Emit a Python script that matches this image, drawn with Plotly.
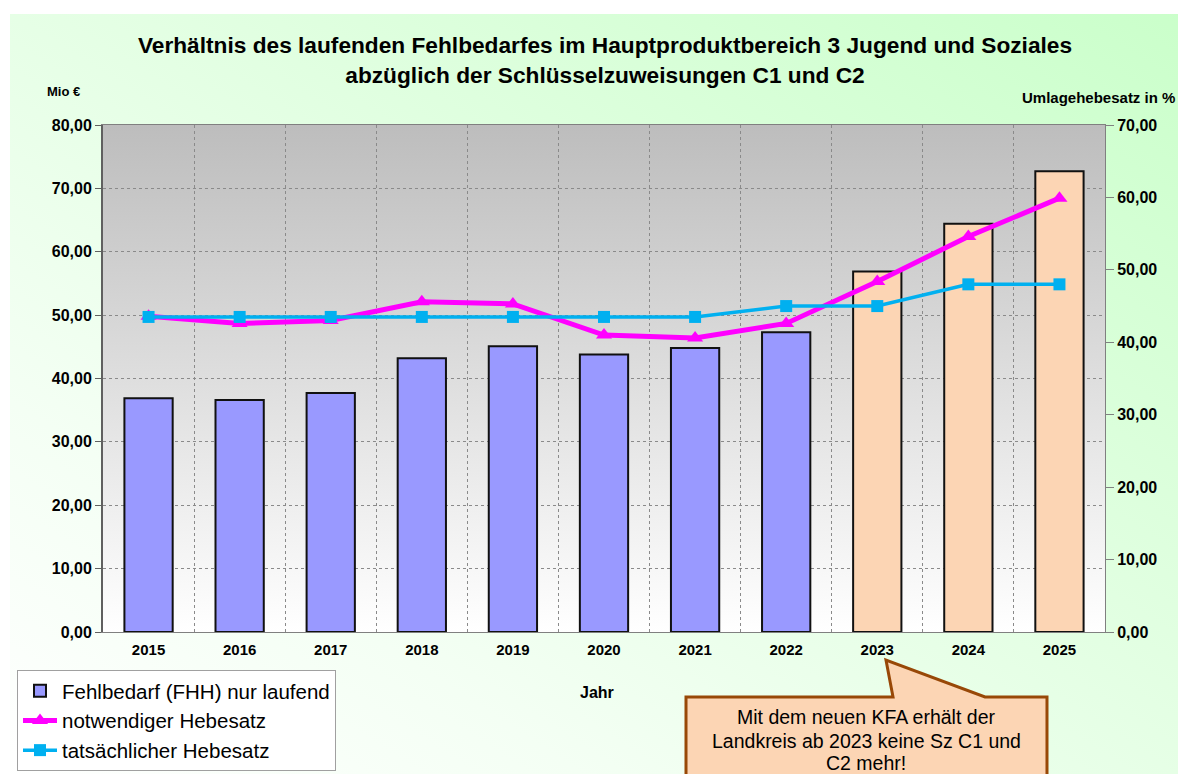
import base64
import plotly.graph_objects as go

# ---------------- data ----------------
years = [2015, 2016, 2017, 2018, 2019, 2020, 2021, 2022, 2023, 2024, 2025]
fehlbedarf = [36.9, 36.6, 37.7, 43.2, 45.1, 43.8, 44.8, 47.3, 56.9, 64.4, 72.7]
notwendig = [43.6, 42.6, 43.0, 45.6, 45.3, 41.0, 40.6, 42.6, 48.4, 54.6, 59.9]
tatsaechlich = [43.5, 43.5, 43.5, 43.5, 43.5, 43.5, 43.5, 45.0, 45.0, 48.0, 48.0]
bar_colors = ["#9999ff"] * 8 + ["#fcd5b4"] * 3

W, H = 1186, 774
OFF = 8  # page body margin offset
FONT = "Arial, Liberation Sans, sans-serif"

# plot area in screen pixels
PL, PR, PT, PB = 103, 1105, 125, 632


def px(x, y):
    return (x - OFF) / W, 1 - (y - OFF) / H


# ---------------- background (gradients) ----------------
svg = f'''<svg xmlns="http://www.w3.org/2000/svg" width="{W}" height="{H}" viewBox="0 0 {W} {H}" preserveAspectRatio="none">
<defs>
<linearGradient id="g" x1="0" y1="1" x2="1" y2="0">
<stop offset="0" stop-color="#ffffff"/>
<stop offset="0.25" stop-color="#f4fff4"/>
<stop offset="1" stop-color="#caffca"/>
</linearGradient>
<linearGradient id="p" x1="0" y1="0" x2="0" y2="1">
<stop offset="0" stop-color="#bdbdbd"/>
<stop offset="1" stop-color="#ffffff"/>
</linearGradient>
</defs>
<rect width="{W}" height="{H}" fill="#ffffff"/>
<rect x="{10-OFF}" y="{14-OFF}" width="{W}" height="{H}" fill="url(#g)"/>
<rect x="{PL-OFF}" y="{PT-OFF}" width="{PR-PL}" height="{PB-PT}" fill="url(#p)"/>
</svg>'''
src = "data:image/svg+xml;base64," + base64.b64encode(svg.encode()).decode()

fig = go.Figure()

fig.add_trace(go.Bar(
    x=years, y=fehlbedarf, name="Fehlbedarf (FHH) nur laufend",
    marker=dict(color=bar_colors, line=dict(color="#111111", width=2)),
    width=0.53, yaxis="y",
))
fig.add_trace(go.Scatter(
    x=years, y=notwendig, name="notwendiger Hebesatz", mode="lines+markers",
    line=dict(color="#ff00ff", width=5),
    marker=dict(symbol="triangle-up", size=14, color="#ff00ff"),
    yaxis="y2",
))
fig.add_trace(go.Scatter(
    x=years, y=tatsaechlich, name="tatsächlicher Hebesatz", mode="lines+markers",
    line=dict(color="#00b0f0", width=3.5),
    marker=dict(symbol="square", size=12, color="#00b0f0"),
    yaxis="y2",
))

x0, _ = px(PL, 0)
x1, _ = px(PR, 0)
_, y1 = px(0, PT)
_, y0 = px(0, PB)

# callout shape
bl, bt, br, bb = 686, 697, 1047, 800
tip = (886, 660)
pts = [(bl, bt), (893, bt), tip, (985, bt), (br, bt), (br, bb), (bl, bb)]
path = "M " + " L ".join(f"{px(a, b)[0]:.5f},{px(a, b)[1]:.5f}" for a, b in pts) + " Z"

callout_lines = ["Mit dem neuen KFA erhält der", "Landkreis ab 2023 keine Sz C1 und", "C2 mehr!"]
callout_y = [717, 741, 763]

annotations = [
    dict(text="Mio €", x=px(45, 0)[0], y=px(0, 92)[1], xref="paper", yref="paper",
         xanchor="left", yanchor="middle", showarrow=False,
         font=dict(size=13, family=FONT, weight="bold")),
    dict(text="Umlagehebesatz in %", x=px(1020, 0)[0], y=px(0, 97)[1], xref="paper", yref="paper",
         xanchor="left", yanchor="middle", showarrow=False,
         font=dict(size=15, family=FONT, weight="bold")),
    dict(text="Jahr", x=px(597, 0)[0], y=px(0, 692)[1], xref="paper", yref="paper",
         xanchor="center", yanchor="middle", showarrow=False,
         font=dict(size=16, family=FONT, weight="bold")),
]
for t, yy in zip(callout_lines, callout_y):
    annotations.append(dict(text=t, x=px(866, 0)[0], y=px(0, yy)[1], xref="paper", yref="paper",
                            xanchor="center", yanchor="middle", showarrow=False,
                            font=dict(size=19.5, family=FONT, color="#000000")))

fig.update_layout(
    width=W, height=H,
    margin=dict(l=0, r=0, t=0, b=0),
    paper_bgcolor="white",
    plot_bgcolor="rgba(0,0,0,0)",
    separators=",.",
    font=dict(family=FONT, color="#000000"),
    images=[dict(source=src, xref="paper", yref="paper", x=0, y=1,
                 sizex=1, sizey=1, xanchor="left", yanchor="top",
                 sizing="stretch", layer="below")],
    title=dict(
        text="Verhältnis des laufenden Fehlbedarfes im Hauptproduktbereich 3 Jugend und Soziales<br>abzüglich der Schlüsselzuweisungen C1 und C2",
        x=px(605, 0)[0], xanchor="center", y=px(0, 53)[1], yanchor="top",
        font=dict(size=22.7, family=FONT, color="#000000", weight="bold"),
    ),
    xaxis=dict(
        domain=[x0, x1], range=[2014.5, 2025.5], tickmode="array",
        tickvals=years, ticktext=[str(y) for y in years],
        showgrid=False, zeroline=False, automargin=False,
        showline=True, linecolor="#808080", linewidth=1, mirror=True,
        tickfont=dict(size=15, family=FONT, weight="bold"),
        ticks="", ticklabelstandoff=4,
        minor=dict(tick0=2014.5, dtick=1, showgrid=True, gridcolor="#8a8a8a",
                   griddash="dot", gridwidth=1, ticks=""),
    ),
    yaxis=dict(
        domain=[y0, y1], range=[0, 80], dtick=10, tickformat=".2f",
        showgrid=True, gridcolor="#8a8a8a", griddash="dot", gridwidth=1,
        zeroline=False, automargin=False,
        showline=True, linecolor="#606060", linewidth=2,
        ticks="outside", ticklen=6, tickcolor="#606060",
        tickfont=dict(size=16, family=FONT, weight="bold"),
    ),
    yaxis2=dict(
        overlaying="y", side="right", anchor="x", range=[0, 70], dtick=10,
        tickformat=".2f", showgrid=False, zeroline=False, automargin=False,
        showline=True, linecolor="#808080", linewidth=1,
        ticks="outside", ticklen=8, tickcolor="#808080",
        tickfont=dict(size=16, family=FONT, weight="bold"),
    ),
    legend=dict(
        x=px(17, 0)[0], y=px(0, 670)[1], xanchor="left", yanchor="top",
        bgcolor="white", bordercolor="#a0a0a0", borderwidth=1,
        font=dict(size=20.5, family=FONT, color="#000000"),
        itemwidth=34, tracegroupgap=0,
    ),
    bargap=0.47,
    showlegend=True,
    shapes=[dict(type="path", path=path, xref="paper", yref="paper",
                 fillcolor="#fcd5b4", line=dict(color="#984807", width=3),
                 layer="above")],
    annotations=annotations,
)

fig.write_html("out.html")
